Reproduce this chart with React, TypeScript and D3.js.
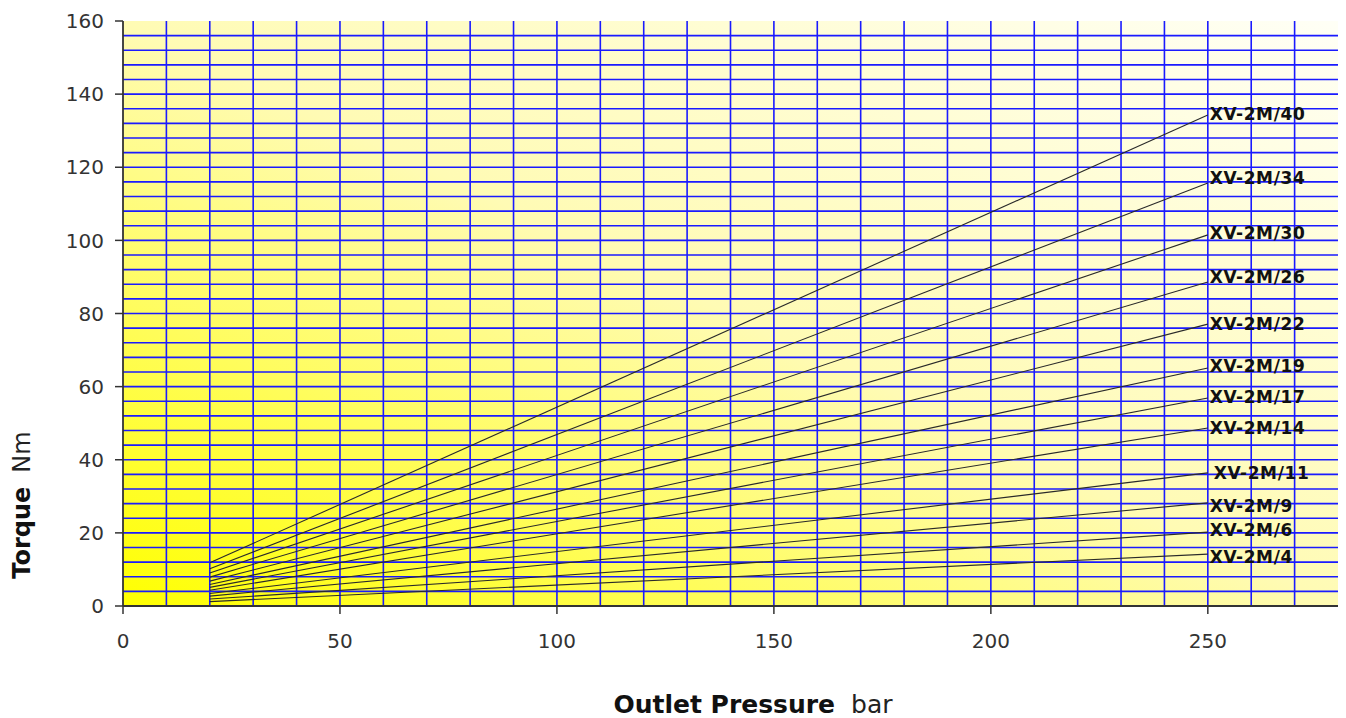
import React from 'react';
import * as d3 from 'd3';

// model names and torque (Nm) at 20 bar and 250 bar
const models = ['XV-2M/40', 'XV-2M/34', 'XV-2M/30', 'XV-2M/26', 'XV-2M/22', 'XV-2M/19', 'XV-2M/17', 'XV-2M/14', 'XV-2M/11', 'XV-2M/9', 'XV-2M/6', 'XV-2M/4'];
const pressures = [20, 250];
const torqueStart = [11.8, 10.2, 9.0, 7.9, 6.8, 5.9, 5.1, 4.3, 3.4, 2.7, 1.9, 1.2];
const torqueEnd = [134.3, 115.7, 101.5, 88.6, 77.1, 65.1, 56.9, 48.7, 36.4, 28.2, 20.2, 14.2];
// small label nudges (px) as in the original
const labelDx = [0, 0, 0, 0, 0, 0, 0, 0, 4, 0, 0, 0];
const labelDy = [-1, -5, -2, -5, 0, -2, -1, 0, 0, 3, -2, 3];

const xTicks = [0, 50, 100, 150, 200, 250];
const yTicks = [0, 20, 40, 60, 80, 100, 120, 140, 160];
const xGrid = d3.range(10, 280, 10);
const yGrid = d3.range(4, 160, 4);

const W = 1346;
const H = 718;
const margin = { top: 21, right: 8, bottom: 112, left: 123 };
const font = 'Verdana, "DejaVu Sans", sans-serif';

const App: React.FC = () => {
  const x = d3.scaleLinear().domain([0, 280]).range([margin.left, W - margin.right]);
  const y = d3.scaleLinear().domain([0, 160]).range([H - margin.bottom, margin.top]);
  const [x0, x1] = x.range();
  const [y0, y1] = y.range();

  const line = d3.line<[number, number]>()
    .x(d => x(d[0]))
    .y(d => y(d[1]));

  return (
    <svg width={W} height={H} style={{ position: 'absolute', left: 0, top: 0, display: 'block' }}>
      <defs>
        <linearGradient id="bg" x1="0" y1="1" x2="1" y2="0">
          <stop offset="0" stopColor="#ffff00" />
          <stop offset="0.5" stopColor="#fffbb4" />
          <stop offset="1" stopColor="#fffff6" />
        </linearGradient>
      </defs>
      <rect x={x0} y={y1} width={x1 - x0} height={y0 - y1} fill="url(#bg)" />

      {/* grid */}
      {yGrid.map(v => (
        <line key={'h' + v} x1={x0} x2={x1} y1={y(v)} y2={y(v)} stroke="#1a1aff" strokeWidth={1.6} />
      ))}
      {xGrid.map(v => (
        <line key={'v' + v} x1={x(v)} x2={x(v)} y1={y1} y2={y0} stroke="#1a1aff" strokeWidth={1.6} />
      ))}

      {/* series */}
      {models.map((m, i) => (
        <path
          key={m}
          d={line([[pressures[0], torqueStart[i]], [pressures[1], torqueEnd[i]]]) || ''}
          fill="none"
          stroke="#2a2a2a"
          strokeWidth={1.1}
        />
      ))}
      {models.map((m, i) => (
        <text
          key={'l' + m}
          x={x(pressures[1]) + 2 + labelDx[i]}
          y={y(torqueEnd[i]) + labelDy[i]}
          dy="0.35em"
          fontFamily={font}
          fontSize={17}
          fontWeight="bold"
          fill="#111"
          letterSpacing={0.6}
        >
          {m}
        </text>
      ))}

      {/* axes */}
      <line x1={x0} x2={x0} y1={y1} y2={y0} stroke="#333" strokeWidth={1.8} />
      <line x1={x0} x2={x1} y1={y0} y2={y0} stroke="#333" strokeWidth={1.8} />
      {yTicks.map(v => (
        <g key={'yt' + v}>
          <line x1={x0 - 8} x2={x0} y1={y(v)} y2={y(v)} stroke="#333" strokeWidth={1.5} />
          <text x={x0 - 19} y={y(v)} dy="0.36em" textAnchor="end" fontFamily={font} fontSize={20} fill="#333">
            {v}
          </text>
        </g>
      ))}
      {xTicks.map(v => (
        <g key={'xt' + v}>
          <line x1={x(v)} x2={x(v)} y1={y0} y2={y0 + 8} stroke="#333" strokeWidth={1.5} />
          <text x={x(v)} y={y0 + 35} dy="0.36em" textAnchor="middle" fontFamily={font} fontSize={20} fill="#333">
            {v}
          </text>
        </g>
      ))}

      {/* axis titles */}
      <text x={753} y={713} textAnchor="middle" fontFamily={font} fontSize={25} fill="#111">
        <tspan fontWeight="bold">Outlet Pressure</tspan>
        <tspan dx={16} fill="#222">bar</tspan>
      </text>
      <text
        transform={`translate(30,${505}) rotate(-90)`}
        textAnchor="middle"
        fontFamily={font}
        fontSize={24}
        fill="#111"
      >
        <tspan fontWeight="bold">Torque</tspan>
        <tspan dx={14} fill="#222">Nm</tspan>
      </text>
    </svg>
  );
};

export default App;
